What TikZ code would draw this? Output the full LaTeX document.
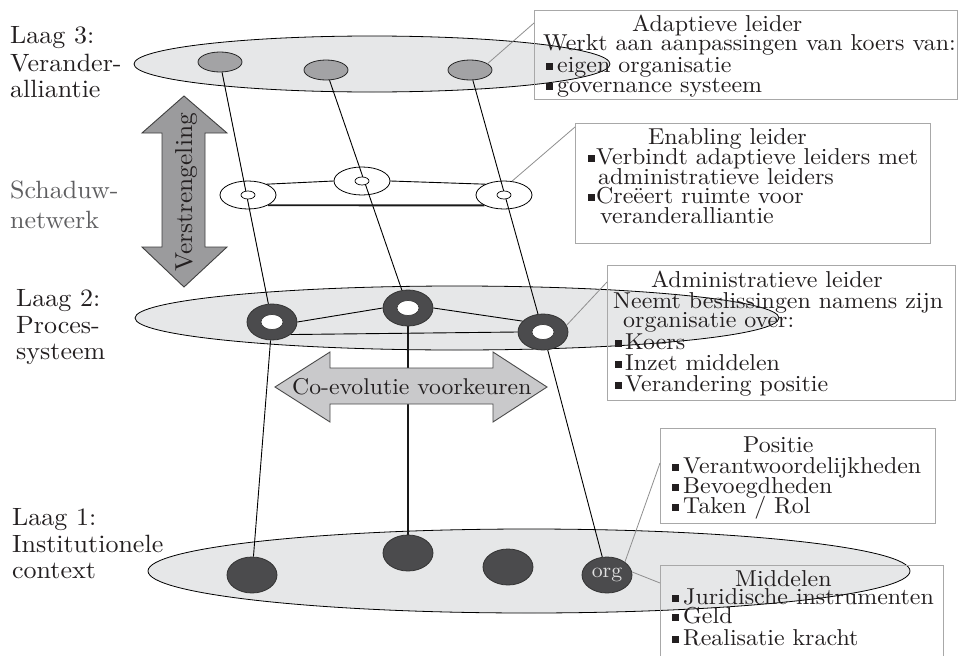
\documentclass[tikz,border=0pt]{standalone}
\usepackage{fontspec}
\setmainfont{lmroman10-regular.otf}[FakeStretch=1.04]
\usetikzlibrary{shapes.geometric,calc}
\definecolor{layerfill}{HTML}{E6E7E8}
\definecolor{grnode}{HTML}{A3A3A5}
\definecolor{dknode}{HTML}{4B4B4D}
\definecolor{boxline}{HTML}{A8A8A8}
\definecolor{callout}{HTML}{8F8F8F}
\definecolor{arrowA}{HTML}{9B9B9D}
\definecolor{arrowB}{HTML}{C9C9CB}
\definecolor{shadowtxt}{HTML}{5E5E60}
\definecolor{inktxt}{HTML}{231F20}
\pgfdeclarelayer{bg}
\pgfdeclarelayer{fg}
\pgfdeclarelayer{top}
\pgfsetlayers{bg,main,fg,top}
\newcommand{\bsq}{\rule[2.5pt]{7pt}{7pt}}
\begin{document}
\begin{tikzpicture}[x=1pt,y=-1pt,
  layer/.style={fill=layerfill,draw=black,line width=0.8pt},
  gnode/.style={ellipse,draw=black!85,fill=grnode,line width=0.8pt,minimum width=44pt,minimum height=20pt,inner sep=0pt},
  snode/.style={ellipse,draw=black,fill=white,line width=0.8pt,minimum width=56pt,minimum height=28pt,inner sep=0pt},
  shole/.style={ellipse,draw=black,fill=white,line width=0.7pt,minimum width=14pt,minimum height=8pt,inner sep=0pt},
  dnode/.style={ellipse,draw=black!80,fill=dknode,line width=0.8pt,minimum width=50pt,minimum height=36pt,inner sep=0pt},
  dhole/.style={ellipse,draw=black!80,fill=white,line width=0.6pt,minimum width=22pt,minimum height=15pt,inner sep=0pt},
  link/.style={draw=black,line width=0.9pt},
  thicklink/.style={draw=black!90,line width=1.9pt},
  callline/.style={draw=callout,line width=0.8pt},
  infobox/.style={draw=boxline,line width=1.2pt,anchor=north west,inner sep=0pt},
  txt/.style={anchor=base west,inner sep=0pt,text=inktxt,font=\fontsize{23}{24}\selectfont},
  lbl/.style={anchor=base west,inner sep=0pt,text=inktxt,font=\fontsize{25}{26}\selectfont},
  bigarrow/.style={line width=0.9pt,line join=miter},
]
\useasboundingbox (0,0) rectangle (959,656);

% ---------- layers (background) ----------
\begin{pgfonlayer}{bg}
  \fill[white] (0,0) rectangle (959,656);
  \draw[layer] (372,64) ellipse [x radius=238pt, y radius=28pt];
  \draw[layer] (457,318) ellipse [x radius=322pt, y radius=32pt];
  \draw[layer] (529,571) ellipse [x radius=381pt, y radius=42pt];
  % shadow network nodes
  \node[snode] (s1) at (248,195) {};
  \node[snode] (s2) at (362,181) {};
  \node[snode] (s3) at (504,195) {};
\end{pgfonlayer}

% ---------- nodes on top ----------
\begin{pgfonlayer}{fg}
  \node[shole] (sh1) at (s1) {};
  \node[shole] (sh2) at (s2) {};
  \node[shole] (sh3) at (s3) {};
  \node[gnode] (g1) at (220,62) {};
  \node[gnode] (g2) at (326,70) {};
  \node[gnode] (g3) at (470,70) {};
  \node[dnode] (n1) at (272,322) {};
  \node[dnode] (n2) at (408,308) {};
  \node[dnode] (n3) at (543,332) {};
  \node[dhole] (h1) at (n1) {};
  \node[dhole] (h2) at (n2) {};
  \node[dhole] (h3) at (n3) {};
  \node[dnode] (b1) at (252,575) {};
  \node[dnode] (b2) at (408,553) {};
  \node[dnode] (b3) at (508,567) {};
  \node[dnode,text=black!12,font=\fontsize{21}{21}\selectfont] (b4) at (607,575) {org};
\end{pgfonlayer}

% ---------- connectors ----------
\draw[link] (g1) -- (n1);
\draw[link] (g2) -- (n2);
\draw[link] (g3) -- (n3);
\draw[link] (n1) -- (b1);
\draw[thicklink] (n2) -- (b2);
\draw[link] (n3) -- (b4);
\draw[link] (s1.30) -- (s2.180);
\draw[link] (s2.0) -- (s3.150);
\draw[thicklink] (s1.-27) -- (s3.208);
\draw[link] (n1.0) -- (n2.180);
\draw[link] (n2.0) -- (n3.152);
\draw[link] (n1.-34) -- (n3.180);

% ---------- arrows, boxes, texts ----------
\begin{pgfonlayer}{top}
  \draw[bigarrow,fill=arrowA,draw=black!75] (184,96) -- (227,133) -- (205,133) -- (205,247) -- (227,247) -- (184,287) -- (142,247) -- (162,247) -- (162,133) -- (142,133) -- cycle;
  \node[lbl,rotate=90,font=\fontsize{24.5}{24}\selectfont] (vtxt) at (192,272) {Verstrengeling};
  \draw[bigarrow,fill=arrowB,draw=black!70] (275,387) -- (330,352) -- (330,368) -- (493,368) -- (493,352) -- (547,387) -- (493,422) -- (493,404) -- (330,404) -- (330,422) -- cycle;
  \node[lbl,font=\fontsize{22.8}{24}\selectfont] (cotxt) at (292,394) {Co-evolutie voorkeuren};

  % boxes
  \node[infobox,minimum width=423pt,minimum height=89pt] (adbox) at (534,10) {};
  \node[infobox,minimum width=355pt,minimum height=120pt] (enbox) at (575,123) {};
  \node[infobox,minimum width=348pt,minimum height=135pt] (adminbox) at (607,265) {};
  \node[infobox,minimum width=275pt,minimum height=95pt] (posbox) at (660,428) {};
  \node[infobox,minimum width=283pt,minimum height=110pt] (midbox) at (660,565) {};

  % callout lines
  \draw[callline] (g3.20) -- ($(adbox.north west)+(0,13)$);
  \draw[callline] (s3.60) -- ($(enbox.north west)+(0,4)$);
  \draw[callline] (n3.16) -- ($(adminbox.north west)+(0,17)$);
  \draw[callline] (b4.36) -- ($(posbox.north west)+(0,35)$);
  \draw[callline] (b4.7) -- ($(midbox.north west)+(0,18)$);

  % box texts
  \node[txt] (a1) at (632,31) {Adaptieve leider};
  \node[txt] (a2) at (543,50) {Werkt aan aanpassingen van koers van:};
  \node[txt] (a3) at (546,72.5) {\bsq\hspace{4pt}eigen organisatie};
  \node[txt] (a4) at (546,92) {\bsq\hspace{4pt}governance systeem};

  \node[txt] (e1) at (648,144.5) {Enabling leider};
  \node[txt] (e2) at (588,164.5) {\bsq\hspace{1pt}Verbindt adaptieve leiders met};
  \node[txt] (e3) at (598,184) {administratieve leiders};
  \node[txt] (e4) at (588,203) {\bsq\hspace{1pt}Creëert ruimte voor};
  \node[txt] (e5) at (600,223) {veranderalliantie};

  \node[txt] (m1) at (651,287) {Administratieve leider};
  \node[txt] (m2) at (613,308) {Neemt beslissingen namens zijn};
  \node[txt] (m3) at (623,327.5) {organisatie over:};
  \node[txt] (m4) at (615,349) {\bsq\hspace{3pt}Koers};
  \node[txt] (m5) at (615,370) {\bsq\hspace{3pt}Inzet middelen};
  \node[txt] (m6) at (615,391.5) {\bsq\hspace{3pt}Verandering positie};

  \node[txt] (p1) at (743,452) {Positie};
  \node[txt] (p2) at (672,473) {\bsq\hspace{4pt}Verantwoordelijkheden};
  \node[txt] (p3) at (672,493) {\bsq\hspace{4pt}Bevoegdheden};
  \node[txt] (p4) at (672,513) {\bsq\hspace{4pt}Taken / Rol};

  \node[txt] (r1) at (735,586) {Middelen};
  \node[txt] (r2) at (672,604.5) {\bsq\hspace{4pt}Juridische instrumenten};
  \node[txt] (r3) at (672,623.5) {\bsq\hspace{4pt}Geld};
  \node[txt] (r4) at (672,645) {\bsq\hspace{4pt}Realisatie kracht};

  % layer labels
  \node[lbl] (l3a) at (10,43) {Laag 3:};
  \node[lbl] (l3b) at (10,71) {Verander-};
  \node[lbl] (l3c) at (10,97) {alliantie};
  \node[lbl,text=shadowtxt] (sna) at (10,198) {Schaduw-};
  \node[lbl,text=shadowtxt] (snb) at (10,228) {netwerk};
  \node[lbl] (l2a) at (16,306) {Laag 2:};
  \node[lbl] (l2b) at (16,333) {Proces-};
  \node[lbl] (l2c) at (16,359) {systeem};
  \node[lbl] (l1a) at (12,525) {Laag 1:};
  \node[lbl] (l1b) at (12,552) {Institutionele};
  \node[lbl] (l1c) at (12,578) {context};
\end{pgfonlayer}
\end{tikzpicture}
\end{document}
